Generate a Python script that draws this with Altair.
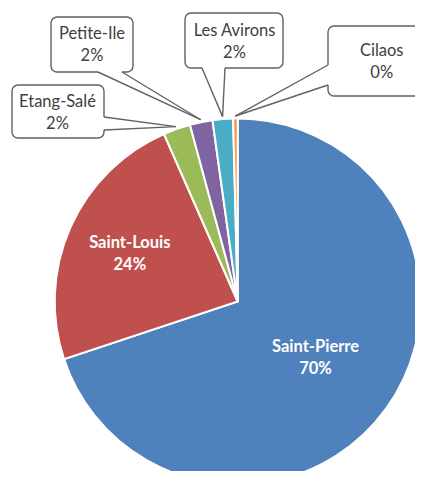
import math
import altair as alt
import pandas as pd

# ---- data ----
categories = ["Saint-Pierre", "Saint-Louis", "Etang-Salé", "Petite-Ile", "Les Avirons", "Cilaos"]
values = [69.9, 23.5, 2.4, 2.0, 1.8, 0.4]
pct_labels = ["70%", "24%", "2%", "2%", "2%", "0%"]
colors = ["#4F81BD", "#C0504D", "#9BBB59", "#8064A2", "#4BACC6", "#F79646"]

# ---- layout (page coordinates, converted below) ----
OFF = 8
W, H = 407, 463
CX, CY, R = 237.7 - OFF, 301.5 - OFF, 183
FONT = "Lato"
FS = 16.5
LINE = 11
inner_r = {"Saint-Pierre": 96, "Saint-Louis": 118}
callouts = {
    "Etang-Salé": dict(box=(12, 85, 104, 138), base=((104, 117), (104, 130)), tx=57.5, ty=112.5),
    "Petite-Ile": dict(box=(51, 17, 133, 72), base=((98, 72), (122, 72)), tx=92, ty=45),
    "Les Avirons": dict(box=(185, 13, 283, 68), base=((202, 68), (225, 68)), tx=234.5, ty=42),
    "Cilaos": dict(box=(328, 26, 436, 96), base=((328, 65), (328, 85)), tx=381.7, ty=62),
}
TIP_R = 185.5

total = sum(values)
mids = {}
cum = 0.0
for c, v in zip(categories, values):
    a0 = cum / total * 360
    cum += v
    a1 = cum / total * 360
    mids[c] = (a0 + a1) / 2


def polar(deg, r):
    t = math.radians(deg)
    return CX + r * math.sin(t), CY - r * math.cos(t)


pie_df = pd.DataFrame({"category": categories, "value": values, "idx": list(range(len(categories)))})

pie = alt.Chart(pie_df).mark_arc(outerRadius=R, stroke="white", strokeWidth=2).encode(
    theta=alt.Theta("value:Q", stack=True),
    order=alt.Order("idx:Q"),
    color=alt.Color("category:N", scale=alt.Scale(domain=categories, range=colors), legend=None),
    x=alt.value(CX),
    y=alt.value(CY),
)

# inner labels
in_rows = []
for c, p in zip(categories, pct_labels):
    if c in inner_r:
        x, y = polar(mids[c], inner_r[c])
        in_rows.append({"x": x, "y": y - LINE, "t": c})
        in_rows.append({"x": x, "y": y + LINE, "t": p})
in_df = pd.DataFrame(in_rows)
inner_text = alt.Chart(in_df).mark_text(
    font=FONT, fontSize=FS, fontWeight="bold", color="white", align="center", baseline="middle"
).encode(
    x=alt.X("x:Q", scale=None, axis=None),
    y=alt.Y("y:Q", scale=None, axis=None),
    text="t:N",
)

# callouts
box_rows, erase_rows, ptr_rows, txt_rows = [], [], [], []
for c, p in zip(categories, pct_labels):
    if c not in callouts:
        continue
    L = callouts[c]
    x0, y0, x1, y1 = L["box"]
    box_rows.append({"x": x0 - OFF, "y": y0 - OFF, "x2": x1 - OFF, "y2": y1 - OFF})
    (bx1, by1), (bx2, by2) = L["base"]
    erase_rows.append({"x": bx1 - OFF, "y": by1 - OFF, "x2": bx2 - OFF, "y2": by2 - OFF})
    tx, ty = polar(mids[c], TIP_R)
    ptr_rows.append({"x": bx1 - OFF, "y": by1 - OFF, "x2": tx, "y2": ty})
    ptr_rows.append({"x": bx2 - OFF, "y": by2 - OFF, "x2": tx, "y2": ty})
    txt_rows.append({"x": L["tx"] - OFF, "y": L["ty"] - OFF - LINE, "t": c})
    txt_rows.append({"x": L["tx"] - OFF, "y": L["ty"] - OFF + LINE, "t": p})

enc4 = dict(
    x=alt.X("x:Q", scale=None, axis=None),
    y=alt.Y("y:Q", scale=None, axis=None),
    x2="x2:Q",
    y2="y2:Q",
)
GRAY = "#626262"
boxes = alt.Chart(pd.DataFrame(box_rows)).mark_rect(
    fill="white", stroke=GRAY, strokeWidth=1.4, cornerRadius=6
).encode(**enc4)
erase = alt.Chart(pd.DataFrame(erase_rows)).mark_rule(color="white", strokeWidth=3).encode(**enc4)
ptrs = alt.Chart(pd.DataFrame(ptr_rows)).mark_rule(color=GRAY, strokeWidth=1.4).encode(**enc4)
box_text = alt.Chart(pd.DataFrame(txt_rows)).mark_text(
    font=FONT, fontSize=FS, color="#404040", align="center", baseline="middle"
).encode(
    x=alt.X("x:Q", scale=None, axis=None),
    y=alt.Y("y:Q", scale=None, axis=None),
    text="t:N",
)

chart = alt.layer(pie, inner_text, boxes, erase, ptrs, box_text).properties(
    width=W, height=H, padding=0, autosize=alt.AutoSizeParams(type="none")
).configure_view(stroke=None)

chart.save("out.html", embed_options={"renderer": "svg", "actions": False})
